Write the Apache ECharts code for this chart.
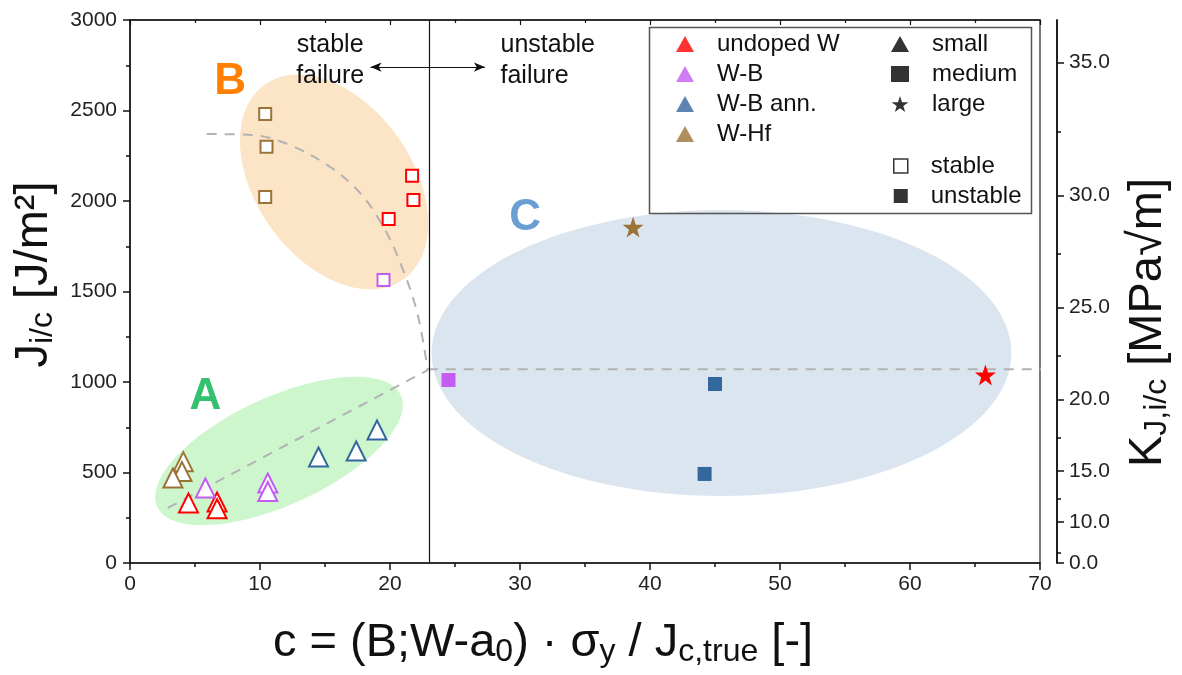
<!DOCTYPE html>
<html>
<head>
<meta charset="utf-8">
<script src="https://cdn.jsdelivr.net/npm/echarts@6/dist/echarts.min.js"></script>
<style>
  html, body { margin: 0; padding: 0; background: #fff; }
  #chart { width: 1182px; height: 675px; }
</style>
</head>
<body>
<div id="chart"></div>
<script>
// ---- data (c [-], J_i/c [J/m²]) ----
const smallUndoped = [[4.5, 331], [6.7, 337], [6.7, 300]];
const smallWB = [[5.8, 414], [10.6, 442], [10.6, 395]];
const smallWBann = [[14.5, 586], [17.4, 619], [19.0, 735]];
const smallWHf = [[4.1, 560], [4.0, 505], [3.3, 470]];

const mediumStableUndoped = [[21.7, 2140], [21.8, 2005], [19.9, 1900]];
const mediumStableWB = [[19.5, 1563]];
const mediumStableWHf = [[10.4, 2481], [10.5, 2300], [10.4, 2022]];

const mediumUnstableWB = [[24.5, 1011]];
const mediumUnstableWBann = [[45.0, 989], [44.2, 492]];
const largeUnstableUndoped = [[65.8, 1039]];
const largeUnstableWHf = [[38.7, 1856]];

// dashed guide lines
const trendA = [[2.9, 304], [22.9, 1066]];
const trendB = [[5.9, 2370], [9.4, 2365], [12.3, 2309], [15.4, 2188], [17.7, 2044],
                [19.5, 1856], [20.8, 1657], [22.1, 1381], [22.9, 1066]];
const trendC = [[22.9, 1070], [70.8, 1070]];

// stable / unstable boundary
const cBoundary = 23;

// axis ticks
const kMajor = [0, 10, 15, 20, 25, 30, 35];
const kMinor = [5, 12.5, 17.5, 22.5, 27.5, 32.5];
const kFactor = 0.443; // K² / J  ((MPa√m)² per J/m²)

const materials = ['undoped W', 'W-B', 'W-B ann.', 'W-Hf'];
const sizes = ['small', 'medium', 'large'];
const stability = ['stable', 'unstable'];

// zones: [c, J, semi-major (c units), semi-minor (c units), tilt deg]
const zones = [[11.46, 619, 10.3, 4.15, -24.6], [15.7, 2105, 9.2, 6.0, 54.5], [45.5, 1160, 22.3, 11.0, 0]];
const zoneNames = ['A', 'B', 'C'];
const zoneLabelPos = [[5.8, 917], [7.7, 2657], [30.4, 1906]];

const colors = { 'undoped W': '#ff0000', 'W-B': '#c45cf2', 'W-B ann.': '#35679f', 'W-Hf': '#9c7337' };
const zoneFill = ['#cdf6cd', '#fce4c6', '#dbe5f0'];
const zoneText = ['#33c06f', '#ff8000', '#6a9fd4'];

const starPath = 'path://M50,0 L61.8,35.1 L97.6,35.1 L68.8,56.8 L79.4,91 L50,70 L20.6,91 L31.2,56.8 L2.4,35.1 L38.2,35.1 Z';
const FONT = 'Liberation Sans, Arial, sans-serif';

const kToJ = k => k * k / kFactor;

let chart = echarts.init(document.getElementById('chart'));

function hollow (name, data, symbol, size) {
  return {
    name: name, type: 'scatter', data: data, symbol: symbol, symbolSize: size, z: 5,
    itemStyle: { color: '#fff', borderColor: colors[name.split('|')[0]], borderWidth: 2, opacity: 1 }
  };
}
function filled (name, data, symbol, size) {
  return {
    name: name, type: 'scatter', data: data, symbol: symbol, symbolSize: size, z: 5,
    itemStyle: { color: colors[name.split('|')[0]], opacity: 1 }
  };
}
function dashed (data, smooth) {
  return {
    type: 'line', data: data, smooth: smooth, symbol: 'none', clip: false, z: 3, silent: true,
    lineStyle: { color: '#b3b3b3', width: 2, type: [10, 8] }
  };
}

const legendSeries = [];
materials.forEach(m => legendSeries.push({ name: m, type: 'scatter', data: [], itemStyle: { color: colors[m] } }));
sizes.concat(stability).forEach(s => legendSeries.push({ name: s, type: 'scatter', data: [], itemStyle: { color: '#000' } }));

const legendText = { fontSize: 24, color: '#111', fontFamily: FONT, padding: [0, 0, 0, 18] };
const titleRich = {
  m: { fontSize: 47, fontFamily: FONT, color: '#111', lineHeight: 50 },
  s: { fontSize: 32, fontFamily: FONT, color: '#111', lineHeight: 22, verticalAlign: 'bottom' }
};

chart.setOption({
  animation: false,
  backgroundColor: '#fff',
  grid: { left: 130, right: 142, top: 20, bottom: 112, show: true, borderColor: '#222', borderWidth: 1.2, backgroundColor: 'transparent' },
  legend: [
    {
      data: materials.map(m => ({ name: m, icon: 'triangle', itemStyle: { color: colors[m] } })),
      orient: 'vertical', left: 671, top: 27, itemWidth: 18, itemHeight: 16, itemGap: 6,
      selectedMode: false, textStyle: legendText
    },
    {
      data: [
        { name: 'small', icon: 'triangle', itemStyle: { color: '#000' } },
        { name: 'medium', icon: 'rect', itemStyle: { color: '#000' } },
        { name: 'large', icon: starPath, itemStyle: { color: '#000' } }
      ],
      orient: 'vertical', left: 886, top: 27, itemWidth: 18, itemHeight: 16, itemGap: 6,
      selectedMode: false, textStyle: legendText
    },
    {
      data: [
        { name: 'stable', icon: 'rect', itemStyle: { color: '#fff', borderColor: '#000', borderWidth: 1.5 } },
        { name: 'unstable', icon: 'rect', itemStyle: { color: '#000' } }
      ],
      orient: 'vertical', left: 888, top: 149, itemWidth: 14, itemHeight: 14, itemGap: 6,
      selectedMode: false, textStyle: legendText
    }
  ],
  graphic: [{
    type: 'rect', left: 647, top: 25, z: 10, silent: true,
    shape: { width: 382, height: 186 },
    style: { fill: 'none', stroke: '#555', lineWidth: 1.5 }
  }],
  xAxis: [
    {
      type: 'value', min: 0, max: 70, interval: 10, position: 'bottom',
      axisLine: { show: true, onZero: false, lineStyle: { color: '#111', width: 1.5 } },
      axisTick: { show: true, inside: false, length: 7, lineStyle: { color: '#111', width: 1.5 } },
      minorTick: { show: true, splitNumber: 2, length: 4, lineStyle: { color: '#111', width: 1.5 } },
      splitLine: { show: false },
      axisLabel: { fontSize: 21, color: '#222', fontFamily: FONT, margin: 11 },
      name: '{m|c = (B;W-a}{s|0}{m|) · σ}{s|y}{m| / J}{s|c,true}{m| [-]}',
      nameLocation: 'middle', nameGap: 55,
      nameTextStyle: { padding: [0, 84, 0, 0], rich: titleRich }
    },
    {
      type: 'value', min: 0, max: 70, interval: 10, position: 'top',
      axisLine: { show: true, onZero: false, lineStyle: { color: '#111', width: 1.5 } },
      axisTick: { show: true, inside: true, length: 5, lineStyle: { color: '#111', width: 1.2 } },
      minorTick: { show: true, splitNumber: 2, length: 3, lineStyle: { color: '#111', width: 1.2 } },
      splitLine: { show: false },
      axisLabel: { show: false }
    }
  ],
  yAxis: [
    {
      type: 'value', min: 0, max: 3000, interval: 500, position: 'left',
      axisLine: { show: true, onZero: false, lineStyle: { color: '#111', width: 1.5 } },
      axisTick: { show: true, inside: false, length: 7, lineStyle: { color: '#111', width: 1.5 } },
      minorTick: { show: true, splitNumber: 2, length: 4, lineStyle: { color: '#111', width: 1.5 } },
      splitLine: { show: false },
      axisLabel: { fontSize: 21, color: '#222', fontFamily: FONT, margin: 13, formatter: v => String(v) },
      name: '{m|J}{s|i/c}{m| [J/m²]}',
      nameLocation: 'middle', nameGap: 58, nameRotate: 90,
      nameTextStyle: { padding: [0, 0, 0, 34], rich: titleRich }
    },
    {
      type: 'value', min: 0, max: 3000, position: 'right', offset: 17,
      axisLine: { show: true, onZero: false, lineStyle: { color: '#111', width: 1.5 } },
      axisTick: { show: true, inside: false, length: 7, customValues: kMajor.map(kToJ), lineStyle: { color: '#111', width: 1.5 } },
      splitLine: { show: false },
      axisLabel: {
        fontSize: 21, color: '#222', fontFamily: FONT, margin: 12,
        customValues: kMajor.map(kToJ),
        formatter: v => Math.sqrt(v * kFactor).toFixed(1)
      },
      name: '{m|K}{s|J,i/c}{m| [MPa√m]}',
      nameLocation: 'middle', nameGap: 66, nameRotate: 90,
      nameTextStyle: { padding: [0, 62, 0, 0], rich: titleRich }
    },
    {
      type: 'value', min: 0, max: 3000, position: 'right', offset: 17,
      axisLine: { show: true, onZero: false, lineStyle: { color: '#111', width: 1.5 } },
      axisTick: { show: true, inside: false, length: 4, customValues: kMinor.map(kToJ), lineStyle: { color: '#111', width: 1.5 } },
      splitLine: { show: false },
      axisLabel: { show: false }
    }
  ],
  series: [
    {
      type: 'custom', data: zones, z: 1, silent: true, clip: false,
      renderItem: function (params, api) {
        const c = api.coord([api.value(0), api.value(1)]);
        const unit = api.size([1, 0])[0];
        const a = api.value(2) * unit, b = api.value(3) * unit;
        const t = api.value(4) * Math.PI / 180;
        const pts = [];
        for (let i = 0; i < 120; i++) {
          const u = i / 120 * 2 * Math.PI;
          const x = a * Math.cos(u), y = b * Math.sin(u);
          pts.push([c[0] + x * Math.cos(t) - y * Math.sin(t), c[1] + x * Math.sin(t) + y * Math.cos(t)]);
        }
        return { type: 'polygon', shape: { points: pts }, style: { fill: zoneFill[params.dataIndex] } };
      }
    },
    {
      type: 'scatter', symbolSize: 0, z: 6, silent: true, itemStyle: { opacity: 1 },
      data: zoneLabelPos.map((p, i) => ({
        value: p,
        label: { show: true, position: 'inside', formatter: zoneNames[i], fontSize: 44, fontWeight: 'bold', color: zoneText[i], fontFamily: FONT }
      }))
    },
    dashed(trendA, false),
    dashed(trendB, 0.35),
    dashed(trendC, false),
    {
      type: 'line', data: [], silent: true,
      markLine: {
        silent: true, animation: false, label: { show: false },
        lineStyle: { color: '#111', width: 1.2, type: 'solid' },
        data: [
          [{ coord: [cBoundary, 0], symbol: 'none' }, { coord: [cBoundary, 3000], symbol: 'none' }],
          [{ coord: [18.5, 2740], symbol: 'arrow', symbolSize: [7, 11] }, { coord: [27.3, 2740], symbol: 'arrow', symbolSize: [7, 11] }]
        ]
      }
    },
    {
      type: 'scatter', symbolSize: 0, z: 6, silent: true, itemStyle: { opacity: 1 },
      data: [
        { value: [15.4, 2775], label: { show: true, position: 'inside', formatter: 'stable\nfailure', align: 'center' } },
        { value: [28.5, 2775], label: { show: true, position: 'right', distance: 0, formatter: 'unstable\nfailure', align: 'left' } }
      ],
      label: { fontSize: 25, color: '#111', fontFamily: FONT, lineHeight: 31 }
    },
    hollow('undoped W|small', smallUndoped, 'triangle', 19),
    hollow('W-B|small', smallWB, 'triangle', 19),
    hollow('W-B ann.|small', smallWBann, 'triangle', 19),
    hollow('W-Hf|small', smallWHf, 'triangle', 19),
    hollow('undoped W|medium stable', mediumStableUndoped, 'rect', 12),
    hollow('W-B|medium stable', mediumStableWB, 'rect', 12),
    hollow('W-Hf|medium stable', mediumStableWHf, 'rect', 12),
    filled('W-B|medium unstable', mediumUnstableWB, 'rect', 14),
    filled('W-B ann.|medium unstable', mediumUnstableWBann, 'rect', 14),
    filled('undoped W|large', largeUnstableUndoped, starPath, 21),
    filled('W-Hf|large', largeUnstableWHf, starPath, 21)
  ].concat(legendSeries)
});

window.addEventListener('resize', () => {
  chart.resize();
});
</script>
</body>
</html>
